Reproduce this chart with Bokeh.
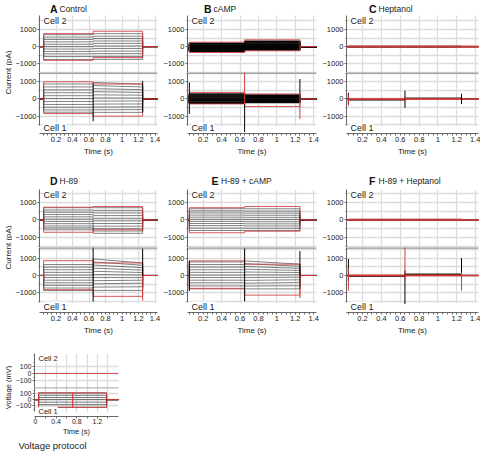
from math import pi
from bokeh.plotting import figure
from bokeh.models import FixedTicker, Label, Span, BoxAnnotation, Range1d, Spacer
from bokeh.layouts import row, column
from bokeh.embed import file_html
from bokeh.resources import INLINE

FONT = "Liberation Sans"
INK = "#000000"
RED = "#d03c3c"
GRID = "#dcdcdc"
AXIS = "#666666"
TXT = "#222222"

# ---------------- data ----------------
STEP_T = [0.05, 0.65, 1.25]          # pulse on, pulse change, pulse off (s)
V_STEP_T = [0.06, 0.72, 1.38]
TIME_TICKS = [0.2, 0.4, 0.6, 0.8, 1.0, 1.2, 1.4]
VTIME_TICKS = [0, 0.4, 0.8, 1.2]
CURRENT_TICKS = [-1000, 0, 1000]
CURRENT_MINOR = [-1500, -500, 500, 1500]
VOLT_TICKS = [-100, 0, 100]

# A - Control
A_c2_s1 = [700, 560, 420, 280, 140, 0, -140, -280, -420, -580, -750]
A_c2_s2 = [760, 610, 470, 330, 190, 40, -110, -260, -410, -570, -740]
A_c2_red = [(760, 900), (-800, -640)]
A_c1_s1 = [870, 700, 530, 360, 190, 20, -150, -320, -480, -640, -770]
A_c1_s2 = [960, 780, 600, 420, 240, 60, -120, -300, -470, -630, -780]
A_c1_s2_end = [860, 700, 540, 380, 220, 50, -120, -290, -460, -620, -780]
A_c1_red = [(1000, 870), (-850, -1000)]
A_c1_spikes = [(0.65, -1300, 900, "k"), (1.25, -780, 1050, "k")]

# B - cAMP
B_c2_s1 = [200, 150, 100, 50, 0, -50, -100, -150, -200, -250, -280]
B_c2_s2 = [320, 270, 210, 160, 110, 60, 0, -50, -100, -150, -200]
B_c2_red = [(260, 400), (-340, -240)]
B_c1_s1 = [290, 230, 170, 110, 50, 0, -50, -110, -170, -220, -250]
B_c1_s2 = [230, 190, 140, 100, 50, 0, -40, -90, -130, -170, -200]
B_c1_red = [(380, 290), (-290, -440)]
B_c1_spikes = [(0.05, -870, 960, "k"), (0.65, -1930, 300, "k"), (0.65, -300, 1650, "r"),
               (1.25, -200, 1160, "k"), (1.25, -1160, 300, "r")]

# C - Heptanol
C_c2_s1 = [25, 15, 5, -5, -15, -25]
C_c2_s2 = [25, 15, 5, -5, -15, -25]
C_c2_red = [(20, 20), (-20, -20)]
C_c1_s1 = [-20, -30, -40, -50, -60]
C_c1_s2 = [50, 40, 30, 20, 10]
C_c1_red = [(15, 15), (-15, -15)]
C_c1_spikes = [(0.05, -300, 350, "k"), (0.05, -400, 250, "r"), (0.65, -520, 480, "k"),
               (0.65, -200, 150, "r"), (1.25, -300, 300, "k")]

# D - H-89
D_c2_s1 = [690, 560, 430, 300, 170, 40, -90, -220, -350, -460, -570]
D_c2_s2 = [690, 540, 390, 240, 90, -60, -210, -360, -510, -640, -770]
D_c2_red = [(720, 760), (-710, -570)]
D_c1_s1 = [630, 480, 330, 180, 30, -120, -270, -420, -570, -720, -860]
D_c1_s2 = [950, 780, 600, 420, 240, 60, -120, -300, -480, -670, -860]
D_c1_s2_end = [720, 590, 450, 310, 170, 30, -120, -270, -440, -650, -860]
D_c1_red = [(850, 720), (-820, -1200)]
D_c1_spikes = [(0.05, -250, 200, "r"), (0.65, -1500, 1650, "k"), (1.25, -700, 1550, "k"),
               (1.25, -1450, 0, "r")]

# E - H-89 + cAMP
E_c2_s1 = [630, 510, 390, 270, 150, 30, -90, -210, -330, -470, -610]
E_c2_s2 = [630, 500, 380, 260, 140, 20, -110, -230, -350, -480, -610]
E_c2_red = [(690, 760), (-740, -650)]
E_c1_s1 = [780, 630, 480, 330, 180, 30, -120, -270, -420, -600, -770]
E_c1_s2 = [840, 680, 520, 360, 200, 40, -120, -280, -440, -610, -770]
E_c1_s2_end = [650, 530, 410, 290, 170, 40, -100, -250, -410, -590, -770]
E_c1_red = [(840, 650), (-740, -1130)]
E_c1_spikes = [(0.05, -900, 850, "k"), (0.65, -1490, 1560, "k"), (1.25, -770, 1400, "k"),
               (1.25, -1300, 0, "r")]

# F - H-89 + Heptanol
F_c2_s1 = [25, 15, 5, -5, -15, -25]
F_c2_s2 = [25, 15, 5, -5, -15, -25]
F_c2_red = [(20, 20), (-20, -20)]
F_c1_s1 = [-10, -20, -30, -40, -50]
F_c1_s2 = [80, 70, 60, 50, 40]
F_c1_red = [(10, 10), (-10, -10)]
F_c1_spikes = [(0.05, -300, 950, "k"), (0.05, -880, 400, "r"), (0.65, -300, 1650, "r"),
               (0.65, -1650, 300, "k"), (1.25, -200, 1000, "k"), (1.25, -880, 200, "r")]

# Voltage protocol (mV)
V_c2_s1 = []
V_c2_red = [(0, 0)]
V_c1_s1 = [105, 70, 35, 0, -40, -80, -120]
V_c1_red = [(110, -125), (-125, 110)]


# ---------------- helpers ----------------
def sweep(t, a, b0, b1, x0, x1):
    return [x0, t[0], t[0], t[1], t[1], t[2], t[2], x1], [0, 0, a, a, b0, b1, 0, 0]


def draw_traces(p, t, s1, s2, s2_end, red, spikes, lw=0.75, alpha=0.75, red_w=1.0):
    x0, x1 = -0.2, 1.8
    if s2 is None:
        s2 = s1
    if s2_end is None:
        s2_end = s2
    xs, ys = [], []
    for a, b0, b1 in zip(s1, s2, s2_end):
        x, y = sweep(t, a, b0, b1, x0, x1)
        xs.append(x); ys.append(y)
    if xs:
        p.multi_line(xs, ys, line_color=INK, line_width=lw, line_alpha=alpha)
    rx, ry = [], []
    for a, b in red:
        x, y = sweep(t, a, b, b, x0, x1)
        rx.append(x); ry.append(y)
    p.multi_line(rx, ry, line_color=RED, line_width=red_w, line_alpha=0.85)
    for col in ("k", "r"):
        sp = [s for s in spikes if s[3] == col]
        if sp:
            p.segment(x0=[s[0] for s in sp], y0=[s[1] for s in sp],
                      x1=[s[0] for s in sp], y1=[s[2] for s in sp],
                      line_color=INK if col == "k" else RED, line_width=1.0)


def blank_fig(width, height):
    f = figure(width=width, height=height, x_range=Range1d(0, 1), y_range=Range1d(0, 1),
               output_backend="svg", toolbar_location=None, tools="",
               x_axis_location=None, y_axis_location=None, min_border=0)
    f.outline_line_color = None
    f.grid.visible = False
    f.background_fill_color = "white"
    f.border_fill_color = "white"
    return f


def base_fig(width, frame_h, bb, bl, br, xr, yr, xaxis, yticks, yminor,
             xticks, xminor, grid_y_minor=True, tick_size="7.5px"):
    p = figure(width=width, height=frame_h + bb,
               x_range=Range1d(*xr), y_range=Range1d(*yr),
               output_backend="svg", toolbar_location=None, tools="",
               x_axis_location="below" if xaxis else None, y_axis_location="left",
               min_border_left=bl, min_border_right=br,
               min_border_top=0, min_border_bottom=bb)
    p.outline_line_color = None
    p.background_fill_color = "white"
    p.border_fill_color = "white"
    ya = p.yaxis[0]
    ya.ticker = FixedTicker(ticks=yticks, minor_ticks=yminor)
    ya.major_label_text_font = FONT
    ya.major_label_text_font_size = tick_size
    ya.major_label_text_color = TXT
    ya.axis_line_color = AXIS
    ya.major_tick_line_color = AXIS
    ya.minor_tick_line_color = AXIS
    ya.major_tick_out = 2
    ya.major_tick_in = 0
    ya.minor_tick_out = 1
    ya.minor_tick_in = 0
    ya.major_label_standoff = 1
    for g in p.ygrid:
        g.ticker = FixedTicker(ticks=yticks, minor_ticks=yminor)
        g.grid_line_color = GRID
        g.grid_line_width = 1.3
        g.minor_grid_line_color = GRID if grid_y_minor else None
        g.minor_grid_line_width = 1.3
        g.level = "image"
    for g in p.xgrid:
        g.ticker = FixedTicker(ticks=xticks)
        g.grid_line_color = GRID
        g.grid_line_width = 1.3
        g.level = "image"
    if xaxis:
        xa = p.xaxis[0]
        xa.ticker = FixedTicker(ticks=xticks, minor_ticks=xminor)
        xa.major_label_text_font = FONT
        xa.major_label_text_font_size = tick_size
        xa.major_label_text_color = TXT
        xa.axis_line_color = AXIS
        xa.major_tick_line_color = AXIS
        xa.minor_tick_line_color = AXIS
        xa.major_tick_out = 2
        xa.major_tick_in = 0
        xa.minor_tick_out = 2
        xa.minor_tick_in = 0
        xa.major_label_standoff = 1
        xa.axis_label = "Time (s)"
        xa.axis_label_text_font = FONT
        xa.axis_label_text_font_size = "8px"
        xa.axis_label_text_font_style = "normal"
        xa.axis_label_text_color = TXT
        xa.axis_label_standoff = 2
    return p


def cell_label(p, text, y, base, size="9px"):
    p.add_layout(Label(x=4, y=y, x_units="screen", y_units="screen", text=text,
                       text_font=FONT, text_font_size=size, text_color=TXT,
                       text_baseline=base, background_fill_color="white",
                       background_fill_alpha=1.0))


def ylabel_fig(width, height, xc, ysep, text, size="8px"):
    f = blank_fig(width, height)
    f.add_layout(Label(x=xc, y=ysep, x_units="screen", y_units="screen",
                       text=text, angle=pi / 2, text_align="center",
                       text_baseline="middle", text_font=FONT, text_font_size=size,
                       text_color=TXT))
    return f


X_MINOR = [round(0.05 * i, 3) for i in range(1, 29) if (i % 4) != 0]

PANELS = [
    [dict(letter="A", name="Control", lx=10.5, xr=(0.0, 1.43), lw=0.7, alpha=0.7, red_w=1.0,
          c2=(A_c2_s1, A_c2_s2, None, A_c2_red, []),
          c1=(A_c1_s1, A_c1_s2, A_c1_s2_end, A_c1_red, A_c1_spikes)),
     dict(letter="B", name="cAMP", lx=16.5, xr=(0.03, 1.43), lw=1.5, alpha=0.95, red_w=1.0,
          c2=(B_c2_s1, B_c2_s2, None, B_c2_red, []),
          c1=(B_c1_s1, B_c1_s2, None, B_c1_red, B_c1_spikes)),
     dict(letter="C", name="Heptanol", lx=22.5, xr=(0.03, 1.43), lw=0.8, alpha=0.8, red_w=1.6,
          c2=(C_c2_s1, C_c2_s2, None, C_c2_red, []),
          c1=(C_c1_s1, C_c1_s2, None, C_c1_red, C_c1_spikes))],
    [dict(letter="D", name="H-89", lx=10.5, xr=(0.0, 1.43), lw=0.7, alpha=0.7, red_w=1.0,
          c2=(D_c2_s1, D_c2_s2, None, D_c2_red, []),
          c1=(D_c1_s1, D_c1_s2, D_c1_s2_end, D_c1_red, D_c1_spikes)),
     dict(letter="E", name="H-89 + cAMP", lx=24, xr=(0.03, 1.43), lw=0.7, alpha=0.7, red_w=1.0,
          c2=(E_c2_s1, E_c2_s2, None, E_c2_red, []),
          c1=(E_c1_s1, E_c1_s2, E_c1_s2_end, E_c1_red, E_c1_spikes)),
     dict(letter="F", name="H-89 + Heptanol", lx=22.5, xr=(0.03, 1.43), lw=0.8, alpha=0.8, red_w=1.6,
          c2=(F_c2_s1, F_c2_s2, None, F_c2_red, []),
          c1=(F_c1_s1, F_c1_s2, None, F_c1_red, F_c1_spikes))],
]

# layout geometry (px)
YLAB_W = 12
COLS = [dict(w=148, bl=22, br=3), dict(w=159, bl=25, br=3), dict(w=161, bl=26, br=2)]
ROWS = [dict(ht=15, title_y=6.5, h2=57, r2=(-1510, 1820), h1=61, r1=(-2010, 1540), bb1=25),
        dict(ht=31, title_y=9, h2=58, r2=(-1580, 1730), h1=65, r1=(-2130, 1610), bb1=25)]

rows = []
for ri, rdef in enumerate(ROWS):
    items = []
    for ci, pdef in enumerate(PANELS[ri]):
        cd = COLS[ci]
        sty = dict(lw=pdef["lw"], alpha=pdef["alpha"], red_w=pdef["red_w"])
        tf = blank_fig(cd["w"], rdef["ht"])
        tf.add_layout(Label(x=pdef["lx"], y=rdef["title_y"], x_units="screen",
                            y_units="screen", text=pdef["letter"], text_font=FONT,
                            text_font_size="10.5px", text_font_style="bold",
                            text_color="#111111", text_baseline="middle"))
        tf.add_layout(Label(x=pdef["lx"] + 9.5, y=rdef["title_y"], x_units="screen",
                            y_units="screen", text=pdef["name"], text_font=FONT,
                            text_font_size="8.5px", text_color=TXT, text_baseline="middle"))

        p2 = base_fig(cd["w"], rdef["h2"], 0, cd["bl"], cd["br"], pdef["xr"],
                      rdef["r2"], False, CURRENT_TICKS, CURRENT_MINOR, TIME_TICKS, X_MINOR)
        s1, s2, s2e, red, spk = pdef["c2"]
        draw_traces(p2, STEP_T, s1, s2, s2e, red, spk, **sty)
        cell_label(p2, "Cell 2", rdef["h2"], "top")

        p1 = base_fig(cd["w"], rdef["h1"], rdef["bb1"], cd["bl"], cd["br"], pdef["xr"],
                      rdef["r1"], True, CURRENT_TICKS, CURRENT_MINOR, TIME_TICKS, X_MINOR)
        p1.yaxis[0].bounds = (-1560, rdef["r1"][1])
        p1.add_layout(BoxAnnotation(bottom=rdef["r1"][0], top=-1580, fill_color="white",
                                    fill_alpha=1.0, line_alpha=0.0, level="underlay"))
        s1, s2, s2e, red, spk = pdef["c1"]
        draw_traces(p1, STEP_T, s1, s2, s2e, red, spk, **sty)
        p1.add_layout(Span(location=rdef["r1"][1] - 20, dimension="width",
                           line_color="#6e6e6e", line_width=1.2))
        cell_label(p1, "Cell 1", 1, "bottom")
        col = column(tf, p2, p1)
        if ci == 0:
            lf = ylabel_fig(YLAB_W, rdef["ht"] + rdef["h2"] + rdef["h1"] + rdef["bb1"], 7.5,
                            rdef["h1"] + rdef["bb1"], "Current (pA)")
            items.append(row(lf, col))
        else:
            items.append(col)
    rows.append(row(*items))

# voltage protocol panel
VW, VBL, VBR = 110, 21, 4
V2_RANGE = (-193, 276)
V1_RANGE = (-269, 194)
VX_RANGE = (-0.02, 1.61)
VX_GRID = [0.2, 0.4, 0.6, 0.8, 1.0, 1.2, 1.4]
VGAP, VH2, VH1, VBB = 16, 34, 31, 20

v2 = base_fig(VW, VH2, 0, VBL, VBR, VX_RANGE, V2_RANGE, False, VOLT_TICKS, [-50, 50, 150, 250],
              VX_GRID, [], grid_y_minor=False, tick_size="7px")
draw_traces(v2, V_STEP_T, V_c2_s1, None, None, V_c2_red, [])
cell_label(v2, "Cell 2", VH2, "top", size="7.5px")

v1 = base_fig(VW, VH1, VBB, VBL, VBR, VX_RANGE, V1_RANGE, True, VOLT_TICKS, [-150, -50, 50, 150],
              VX_GRID, [], grid_y_minor=False, tick_size="7px")
v1.xaxis[0].ticker = FixedTicker(ticks=VTIME_TICKS, minor_ticks=[0.2, 0.6, 1.0, 1.4])
v1.xaxis[0].major_label_standoff = 0
v1.xaxis[0].axis_label_standoff = 0
v1.xaxis[0].axis_label_text_font_size = "7.5px"
v1.yaxis[0].bounds = (-190, 194)
v1.add_layout(BoxAnnotation(bottom=V1_RANGE[0], top=-200, fill_color="white",
                            fill_alpha=1.0, line_alpha=0.0, level="underlay"))
draw_traces(v1, V_STEP_T, V_c1_s1, None, None, V_c1_red, [], lw=1.0, alpha=0.55)
v1.add_layout(Span(location=190, dimension="width", line_color="#6e6e6e", line_width=1.2))
cell_label(v1, "Cell 1", 1, "bottom", size="7.5px")

vlf = ylabel_fig(YLAB_W, VGAP + VH2 + VH1 + VBB, 8, VH1 + VBB, "Voltage (mV)", size="7.5px")
vtext = blank_fig(VW + YLAB_W, 13)
vtext.add_layout(Label(x=18, y=6, x_units="screen", y_units="screen", text="Voltage protocol",
                       text_font=FONT, text_font_size="9.5px", text_color=TXT,
                       text_baseline="middle"))
vblock = column(row(vlf, column(Spacer(width=VW, height=VGAP), v2, v1)), vtext)

layout = column(rows[0], rows[1], vblock)
open("out.html", "w").write(file_html(layout, INLINE))
